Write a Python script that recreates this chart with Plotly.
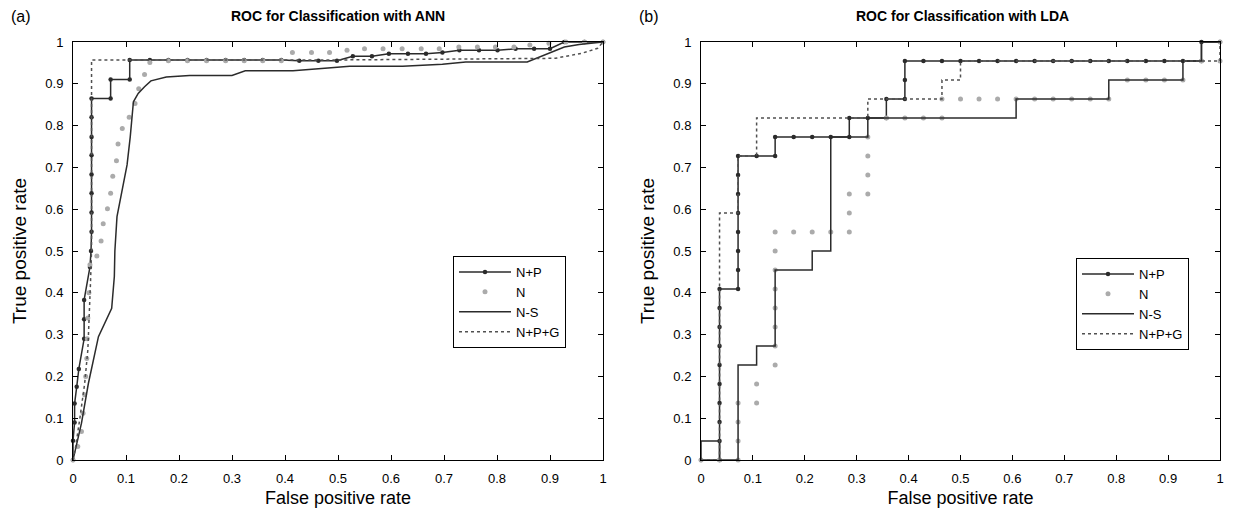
import plotly.graph_objects as go

# ---------------- ANN panel ----------------
ann_np_fpr = [0, 0.0, 0.003, 0.003, 0.007, 0.011, 0.021, 0.021, 0.021, 0.032, 0.034,
              0.035, 0.035, 0.035, 0.035, 0.035, 0.035, 0.035, 0.035,
              0.071, 0.071, 0.107, 0.107, 0.145, 0.18, 0.216, 0.252, 0.288, 0.323,
              0.358, 0.393, 0.427, 0.463, 0.498, 0.528, 0.564, 0.596, 0.632, 0.666,
              0.697, 0.729, 0.766, 0.801, 0.835, 0.87, 0.9, 0.927, 0.965, 1.0]
ann_np_tpr = [0, 0.046, 0.09, 0.135, 0.175, 0.218, 0.29, 0.337, 0.383, 0.462, 0.5,
              0.546, 0.592, 0.638, 0.683, 0.729, 0.773, 0.82, 0.865,
              0.865, 0.91, 0.91, 0.957, 0.957, 0.957, 0.957, 0.957, 0.957, 0.957,
              0.957, 0.957, 0.955, 0.955, 0.955, 0.966, 0.966, 0.972, 0.972, 0.972,
              0.975, 0.98, 0.98, 0.98, 0.984, 0.984, 0.984, 1.0, 1.0, 1.0]

ann_n_fpr = [0, 0.009, 0.016, 0.019, 0.022, 0.024, 0.026, 0.027, 0.028, 0.03, 0.032,
             0.045, 0.053, 0.057, 0.065, 0.071, 0.075, 0.082, 0.085, 0.093, 0.106,
             0.117, 0.124, 0.135, 0.145, 0.18, 0.216, 0.252, 0.288, 0.323, 0.358,
             0.393, 0.414, 0.45, 0.484, 0.517, 0.55, 0.585, 0.621, 0.657, 0.691,
             0.728, 0.763, 0.797, 0.832, 0.862, 0.898, 0.93, 0.965, 1.0]
ann_n_tpr = [0, 0.032, 0.068, 0.112, 0.156, 0.2, 0.243, 0.29, 0.34, 0.4, 0.467,
             0.488, 0.524, 0.565, 0.601, 0.638, 0.679, 0.716, 0.756, 0.793, 0.82,
             0.853, 0.888, 0.922, 0.951, 0.955, 0.955, 0.955, 0.955, 0.955, 0.955,
             0.955, 0.975, 0.975, 0.975, 0.98, 0.984, 0.984, 0.984, 0.984, 0.984,
             0.988, 0.988, 0.988, 0.988, 0.993, 0.997, 1.0, 1.0, 1.0]

ann_ns_fpr = [0, 0.007, 0.016, 0.029, 0.048, 0.073, 0.078, 0.079, 0.083, 0.102,
              0.108, 0.114, 0.123, 0.135, 0.147, 0.176, 0.22, 0.3, 0.325, 0.415,
              0.453, 0.481, 0.522, 0.622, 0.697, 0.741, 0.857, 0.892, 0.927, 0.955, 1.0]
ann_ns_tpr = [0, 0.04, 0.088, 0.183, 0.295, 0.363, 0.439, 0.5, 0.582, 0.706,
              0.773, 0.857, 0.877, 0.893, 0.907, 0.916, 0.92, 0.92, 0.931, 0.931,
              0.936, 0.938, 0.942, 0.942, 0.947, 0.952, 0.952, 0.97, 0.988, 0.994, 1.0]

ann_npg_fpr = [0, 0.004, 0.013, 0.022, 0.028, 0.031, 0.033, 0.035, 0.035, 0.2,
               0.5, 0.91, 0.96, 0.99, 1.0]
ann_npg_tpr = [0, 0.024, 0.1, 0.183, 0.263, 0.343, 0.423, 0.502, 0.957, 0.957,
               0.957, 0.961, 0.973, 0.985, 1.0]

# ---------------- LDA panel: 28 negatives, 22 positives ----------------
n_neg, n_pos = 28, 22

lda_np_fp = [0, 1, 1, 1, 1, 1, 1, 1, 1, 1, 1, 2, 2, 2, 2, 2, 2, 2, 2, 3, 4, 4,
             5, 6, 7, 8, 8, 9, 10, 10, 11, 11, 11, 12, 13, 14, 15, 16, 17, 18,
             19, 20, 21, 22, 23, 24, 25, 26, 27, 27, 28]
lda_np_tp = [0, 0, 1, 2, 3, 4, 5, 6, 7, 8, 9, 9, 10, 11, 12, 13, 14, 15, 16, 16,
             16, 17, 17, 17, 17, 17, 18, 18, 18, 19, 19, 20, 21, 21, 21, 21, 21,
             21, 21, 21, 21, 21, 21, 21, 21, 21, 21, 21, 21, 22, 22]

lda_n_fp = [0, 1, 2, 2, 2, 2, 3, 3, 4, 4, 4, 4, 4, 4, 4, 4, 5, 6, 7, 8, 8, 8,
            9, 9, 9, 9, 10, 11, 12, 13, 13, 14, 15, 16, 17, 18, 19, 20, 21, 22,
            23, 24, 25, 26, 27, 28, 28]
lda_n_tp = [0, 0, 0, 1, 2, 3, 3, 4, 5, 6, 7, 8, 9, 10, 11, 12, 12, 12, 12, 12,
            13, 14, 14, 15, 16, 17, 18, 18, 18, 18, 19, 19, 19, 19, 19, 19, 19,
            19, 19, 19, 20, 20, 20, 20, 21, 21, 22]

lda_ns_fp = [0, 0, 1, 1, 2, 2, 3, 3, 4, 4, 6, 6, 7, 7, 9, 9, 17, 17, 22, 22,
             26, 26, 27, 27, 28]
lda_ns_tp = [0, 1, 1, 0, 0, 5, 5, 6, 6, 10, 10, 11, 11, 17, 17, 18, 18, 19, 19,
             20, 20, 21, 21, 22, 22]

lda_npg_fp = [0, 1, 1, 2, 2, 3, 3, 9, 9, 13, 13, 14, 14, 28, 28]
lda_npg_tp = [0, 0, 13, 13, 16, 16, 18, 18, 19, 19, 20, 20, 21, 21, 22]

tick_vals = [0, 0.1, 0.2, 0.3, 0.4, 0.5, 0.6, 0.7, 0.8, 0.9, 1]
tick_text = ["0", "0.1", "0.2", "0.3", "0.4", "0.5", "0.6", "0.7", "0.8", "0.9", "1"]

DARK = "#2b2b2b"
GREY = "#ababab"
FONT = "Liberation Sans, Arial, sans-serif"

# page body adds an 8px offset; the figure is sized so the page does not
# overflow the window, and screen pixels are shifted by OFF
OFF = 8
W, H = 1225, 500
ML, MT = 73 - OFF, 42 - OFF
MB = H - (460 - OFF)
MR = W - (1220 - OFF)
PW, PH = W - ML - MR, H - MT - MB


def px_x(px):
    """Screen pixel column -> paper fraction"""
    return (px - OFF - ML) / PW


def px_y(py):
    """Screen pixel row (from top) -> paper fraction"""
    return (H - MB - (py - OFF)) / PH


def panel(fig, data, xa, ya, legend):
    """Add the four ROC curves of one panel"""
    names = ["N+P", "N", "N-S", "N+P+G"]
    styles = [
        dict(mode="lines+markers", line=dict(color=DARK, width=1.5),
             marker=dict(color=DARK, size=4.5)),
        dict(mode="markers", marker=dict(color=GREY, size=5)),
        dict(mode="lines", line=dict(color=DARK, width=1.5)),
        dict(mode="lines", line=dict(color="#505050", width=1.5, dash="dot")),
    ]
    for (x, y), name, st in zip(data, names, styles):
        fig.add_trace(go.Scatter(x=x, y=y, name=name, xaxis=xa, yaxis=ya,
                                 legend=legend, cliponaxis=False, **st))


fig = go.Figure()

panel(fig, [(ann_np_fpr, ann_np_tpr), (ann_n_fpr, ann_n_tpr),
            (ann_ns_fpr, ann_ns_tpr), (ann_npg_fpr, ann_npg_tpr)],
      "x", "y", "legend")

lda = [(lda_np_fp, lda_np_tp), (lda_n_fp, lda_n_tp),
       (lda_ns_fp, lda_ns_tp), (lda_npg_fp, lda_npg_tp)]
lda = [([v / n_neg for v in a], [v / n_pos for v in b]) for a, b in lda]
panel(fig, lda, "x2", "y2", "legend2")

axis_common = dict(
    range=[0, 1], tickvals=tick_vals, ticktext=tick_text,
    showline=True, linecolor="black", linewidth=1, mirror="ticks",
    ticks="inside", ticklen=5, tickcolor="black", tickwidth=1,
    showgrid=False, zeroline=False, automargin=False, ticklabelstandoff=6,
    ticklabeloverflow="allow",
    tickfont=dict(size=13, color="black", family=FONT),
)
x_title_font = dict(size=18, color="black", family=FONT)
y_title_font = dict(size=19, color="black", family=FONT)

legend_common = dict(
    bgcolor="white", bordercolor="black", borderwidth=1,
    font=dict(size=13, color="black", family=FONT),
    xanchor="left", yanchor="top", tracegroupgap=0, itemwidth=52,
)

title_y = px_y(16)
fig.update_layout(
    width=W, height=H,
    paper_bgcolor="white", plot_bgcolor="white",
    margin=dict(l=ML, r=MR, t=MT, b=MB),
    font=dict(family=FONT, color="black"),
    xaxis=dict(domain=[0, px_x(603)], anchor="y",
               title=dict(text="False positive rate", standoff=8,
                          font=x_title_font), **axis_common),
    yaxis=dict(domain=[0, 1], anchor="x",
               title=dict(text="True positive rate", standoff=13,
                          font=y_title_font), **axis_common),
    xaxis2=dict(domain=[px_x(701), 1], anchor="y2",
                title=dict(text="False positive rate", standoff=8,
                           font=x_title_font), **axis_common),
    yaxis2=dict(domain=[0, 1], anchor="x2",
                title=dict(text="True positive rate", standoff=13,
                           font=y_title_font), **axis_common),
    legend=dict(x=px_x(453), y=px_y(256), **legend_common),
    legend2=dict(x=px_x(1076), y=px_y(258), **legend_common),
    annotations=[
        dict(text="(a)", x=px_x(9), y=title_y, xref="paper", yref="paper",
             xanchor="left", yanchor="middle", showarrow=False,
             font=dict(size=16, family=FONT)),
        dict(text="(b)", x=px_x(637), y=title_y, xref="paper", yref="paper",
             xanchor="left", yanchor="middle", showarrow=False,
             font=dict(size=16, family=FONT)),
        dict(text="<b>ROC for Classification with ANN</b>", x=px_x(338),
             y=title_y, xref="paper", yref="paper", xanchor="center",
             yanchor="middle", showarrow=False, font=dict(size=14, family=FONT)),
        dict(text="<b>ROC for Classification with LDA</b>", x=px_x(963),
             y=title_y, xref="paper", yref="paper", xanchor="center",
             yanchor="middle", showarrow=False, font=dict(size=14, family=FONT)),
    ],
)

fig.write_html("out.html")
